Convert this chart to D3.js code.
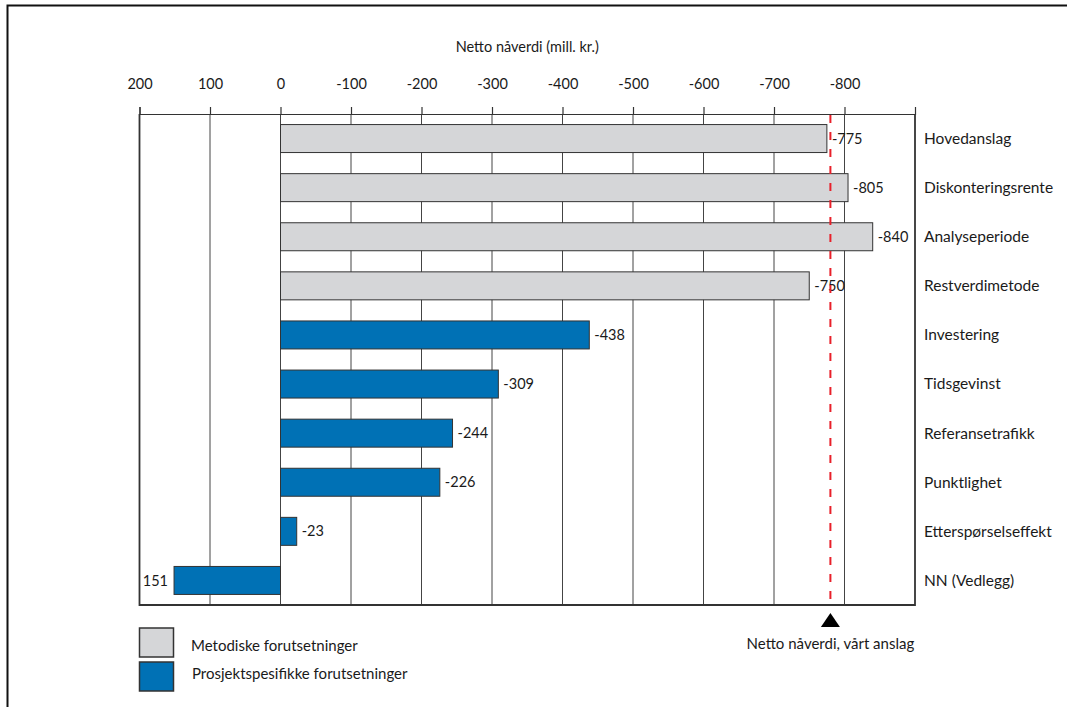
<!DOCTYPE html>
<html>
<head>
<meta charset="utf-8">
<script src="https://cdn.jsdelivr.net/npm/d3@7"></script>
<style>
  body { margin: 0; background: #fff; }
  text { font-family: Lato, "Open Sans", sans-serif; fill: #1a1a1a; }
</style>
</head>
<body>
<svg id="chart" width="1067" height="707"></svg>
<script>
const categories = [
  "Hovedanslag", "Diskonteringsrente", "Analyseperiode", "Restverdimetode",
  "Investering", "Tidsgevinst", "Referansetrafikk", "Punktlighet",
  "Etterspørselseffekt", "NN (Vedlegg)"
];
const values = [-775, -805, -840, -750, -438, -309, -244, -226, -23, 151];
const groups = ["met", "met", "met", "met", "pro", "pro", "pro", "pro", "pro", "pro"];
const groupNames = ["Metodiske forutsetninger", "Prosjektspesifikke forutsetninger"];
const tickValues = [200, 100, 0, -100, -200, -300, -400, -500, -600, -700, -800];
const estimate = -780;
const axisTitle = "Netto nåverdi (mill. kr.)";
const estimateLabel = "Netto nåverdi, vårt anslag";

const colors = { met: "#d5d6d8", pro: "#0071b5" };

const svg = d3.select("#chart");
const plot = { left: 139.5, right: 915, top: 114, bottom: 605 };

// outer frame (top and left only)
svg.append("path")
  .attr("d", `M7.5,707 V5.5 H1067`)
  .attr("fill", "none")
  .attr("stroke", "#111")
  .attr("stroke-width", 2);

const x = d3.scaleLinear().domain([200, -900]).range([plot.left, plot.right]);
const y = d3.scaleBand()
  .domain(categories)
  .range([plot.top, plot.bottom])
  .paddingInner(0.43)
  .paddingOuter(0.215);

// gridlines
svg.append("g")
  .selectAll("line")
  .data(tickValues)
  .join("line")
  .attr("x1", (d) => x(d))
  .attr("x2", (d) => x(d))
  .attr("y1", plot.top)
  .attr("y2", plot.bottom)
  .attr("stroke", "#444")
  .attr("stroke-width", 1);

// top axis
const axis = d3.axisTop(x)
  .tickValues(tickValues)
  .tickSize(7)
  .tickSizeOuter(7)
  .tickPadding(18)
  .tickFormat((d) => String(d));
const gAxis = svg.append("g")
  .attr("transform", `translate(0,${plot.top})`)
  .call(axis);
gAxis.select(".domain").attr("stroke", "#333").attr("stroke-width", 1.2);
gAxis.selectAll(".tick line").attr("stroke", "#333").attr("stroke-width", 1.2);
gAxis.selectAll(".tick text")
  .attr("font-family", "Lato, sans-serif")
  .attr("font-size", 14.5)
  .attr("fill", "#1a1a1a");

svg.append("text")
  .attr("x", (plot.left + plot.right) / 2)
  .attr("y", 52)
  .attr("text-anchor", "middle")
  .attr("font-size", 14.5)
  .text(axisTitle);

// bars
const rows = categories.map((c, i) => ({ cat: c, value: values[i], group: groups[i] }));

svg.append("g")
  .selectAll("rect")
  .data(rows)
  .join("rect")
  .attr("x", (d) => Math.min(x(0), x(d.value)))
  .attr("y", (d) => y(d.cat))
  .attr("width", (d) => Math.abs(x(d.value) - x(0)))
  .attr("height", y.bandwidth())
  .attr("fill", (d) => colors[d.group])
  .attr("stroke", "#333")
  .attr("stroke-width", 1);

// value labels
svg.append("g")
  .selectAll("text")
  .data(rows)
  .join("text")
  .attr("x", (d) => (d.value < 0 ? x(d.value) + 5 : x(d.value) - 6))
  .attr("y", (d) => y(d.cat) + y.bandwidth() / 2)
  .attr("dy", "0.35em")
  .attr("text-anchor", (d) => (d.value < 0 ? "start" : "end"))
  .attr("font-size", 14.5)
  .text((d) => String(d.value));

// category labels on the right
svg.append("g")
  .selectAll("text")
  .data(rows)
  .join("text")
  .attr("x", plot.right + 9)
  .attr("y", (d) => y(d.cat) + y.bandwidth() / 2)
  .attr("dy", "0.35em")
  .attr("font-size", 15.5)
  .text((d) => d.cat);

// plot frame: left, bottom, right
svg.append("path")
  .attr("d", `M${plot.left},${plot.top} V${plot.bottom} H${plot.right} V${plot.top}`)
  .attr("fill", "none")
  .attr("stroke", "#333")
  .attr("stroke-width", 1.8);

// estimate line
const ex = x(estimate);
svg.append("line")
  .attr("x1", ex).attr("x2", ex)
  .attr("y1", plot.top + 1).attr("y2", plot.bottom - 2)
  .attr("stroke", "#e8202a")
  .attr("stroke-width", 2)
  .attr("stroke-dasharray", "8,9");

svg.append("path")
  .attr("d", d3.line()([[ex - 9.5, 627], [ex + 9.5, 627], [ex, 613]]) + "Z")
  .attr("fill", "#000");

svg.append("text")
  .attr("x", ex)
  .attr("y", 649)
  .attr("text-anchor", "middle")
  .attr("font-size", 15)
  .text(estimateLabel);

// legend
const legend = svg.append("g");
const legendKeys = ["met", "pro"];
legend.selectAll("rect")
  .data(legendKeys)
  .join("rect")
  .attr("x", 139.5)
  .attr("y", (d, i) => 628 + i * 34)
  .attr("width", 34)
  .attr("height", 29)
  .attr("fill", (d) => colors[d])
  .attr("stroke", "#333")
  .attr("stroke-width", 1.5);
legend.selectAll("text")
  .data(legendKeys)
  .join("text")
  .attr("x", (d, i) => 191 + i)
  .attr("y", (d, i) => 646 + i * 28)
  .attr("dy", "0.35em")
  .attr("font-size", 15)
  .text((d, i) => groupNames[i]);
</script>
</body>
</html>
